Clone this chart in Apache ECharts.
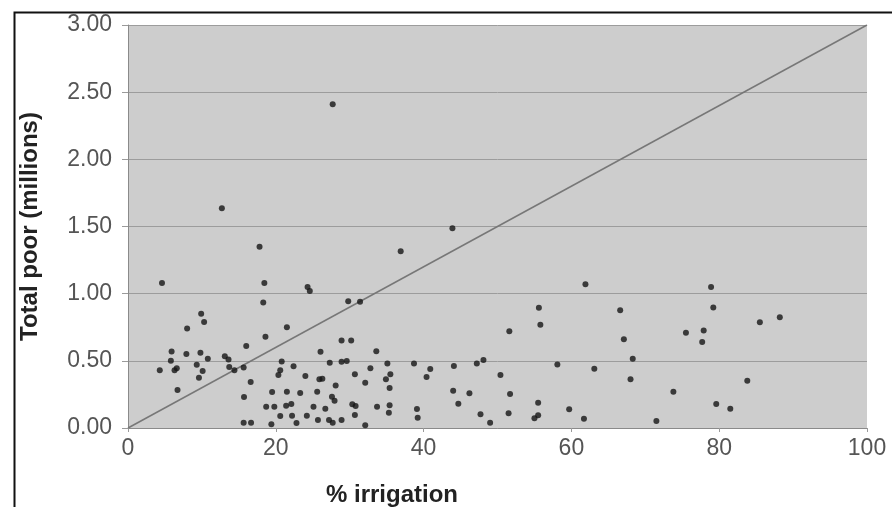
<!DOCTYPE html>
<html>
<head>
<meta charset="utf-8">
<script src="https://cdn.jsdelivr.net/npm/echarts@6/dist/echarts.min.js"></script>
<style>
html,body{margin:0;padding:0;background:#fff;}
#c{width:892px;height:507px;}
</style>
</head>
<body>
<div id="c"></div>
<script>
// % irrigation (x) and total poor in millions (y)
const irrigation = [4.6,18.45,24.3,24.6,18.3,9.9,10.3,8.0,21.5,18.6,16.0,5.9,7.9,9.8,10.8,13.1,13.6,5.8,9.3,20.8,
  4.3,6.3,6.6,10.1,13.7,14.4,15.65,22.4,20.6,20.35,9.6,24.0,25.9,26.3,6.7,16.6,19.5,21.5,23.3,25.6,
  15.7,18.7,19.8,21.4,22.1,25.1,20.6,22.2,24.2,25.7,15.65,16.65,19.4,22.8,29.8,31.4,28.9,30.2,26.05,33.6,
  27.3,28.9,29.6,35.1,38.7,44.1,47.2,48.1,32.8,40.9,30.7,35.5,34.9,40.4,50.4,32.1,28.1,35.4,44.0,46.2,
  27.6,27.95,44.7,26.7,30.35,30.8,33.7,35.4,35.3,39.1,30.7,39.2,47.7,27.2,27.7,28.9,32.1,49.0,61.9,55.6,
  55.8,66.6,51.6,67.1,68.3,58.1,63.1,68.0,51.7,73.8,55.5,51.5,55.0,55.5,59.7,61.7,71.5,78.9,79.2,85.5,
  88.2,75.5,77.9,77.7,83.8,79.6,81.5,27.7,12.7,17.8,43.9,36.9];
const totalPoor = [1.08,1.08,1.05,1.02,0.935,0.85,0.79,0.74,0.75,0.68,0.61,0.57,0.55,0.56,0.515,0.535,0.51,0.50,0.47,0.495,
  0.43,0.43,0.445,0.425,0.455,0.43,0.45,0.46,0.43,0.395,0.375,0.388,0.362,0.367,0.283,0.342,0.268,0.27,0.26,0.27,
  0.23,0.158,0.158,0.166,0.178,0.158,0.089,0.092,0.092,0.06,0.04,0.04,0.027,0.037,0.944,0.939,0.652,0.652,0.567,0.572,
  0.486,0.493,0.498,0.48,0.48,0.461,0.48,0.506,0.444,0.439,0.401,0.401,0.362,0.38,0.395,0.337,0.317,0.297,0.277,0.258,
  0.233,0.203,0.181,0.144,0.176,0.164,0.158,0.169,0.114,0.141,0.097,0.077,0.102,0.06,0.04,0.06,0.02,0.04,1.07,0.895,
  0.768,0.877,0.721,0.66,0.515,0.473,0.441,0.362,0.253,0.27,0.188,0.109,0.072,0.095,0.139,0.069,0.052,1.05,0.897,0.788,
  0.825,0.709,0.726,0.64,0.352,0.178,0.144,2.41,1.636,1.35,1.487,1.316];
// reference line y = 3 * x / 100
const refLineX = [0, 100];
const refLineY = [0, 3];
const xTicks = [0, 20, 40, 60, 80, 100];
const yTicks = [0, 0.5, 1, 1.5, 2, 2.5, 3];

const points = irrigation.map((x, i) => [x, totalPoor[i]]);
const refLine = refLineX.map((x, i) => [x, refLineY[i]]);

const FONT = '"Liberation Sans", Arial, sans-serif';
const chart = echarts.init(document.getElementById('c'), null, {renderer: 'canvas'});
chart.setOption({
  animation: false,
  backgroundColor: '#ffffff',
  grid: {left: 128, right: 25, top: 25, bottom: 79, show: true, backgroundColor: '#cdcdcd', borderWidth: 0},
  xAxis: {
    type: 'value', min: xTicks[0], max: xTicks[xTicks.length - 1], interval: 20,
    axisLine: {show: true, lineStyle: {color: '#8a8a8a', width: 1}},
    axisTick: {show: true, length: 4, lineStyle: {color: '#9a9a9a'}},
    splitLine: {show: false},
    axisLabel: {color: '#555', fontFamily: FONT, fontSize: 23, margin: 9}
  },
  yAxis: {
    type: 'value', min: yTicks[0], max: yTicks[yTicks.length - 1], interval: 0.5,
    name: 'Total poor (millions)', nameLocation: 'middle', nameGap: 86, nameRotate: 90,
    nameTextStyle: {color: '#222', fontFamily: FONT, fontSize: 24, fontWeight: 'bold'},
    axisLine: {show: true, lineStyle: {color: '#8a8a8a', width: 1}},
    axisTick: {show: true, length: 6, lineStyle: {color: '#9a9a9a'}},
    splitLine: {show: true, lineStyle: {color: '#9c9c9c', width: 1}},
    axisLabel: {color: '#555', fontFamily: FONT, fontSize: 23, margin: 16, formatter: v => v.toFixed(2)}
  },
  graphic: [
    {type: 'rect', left: 12, top: 10, silent: true, z: 100,
     shape: {x: 0, y: 0, width: 900, height: 600},
     style: {fill: null, stroke: '#111', lineWidth: 2}},
    {type: 'text', x: 392, y: 495, silent: true,
     style: {text: '% irrigation', fill: '#222', font: 'bold 24px ' + FONT, textAlign: 'center', textVerticalAlign: 'middle'}}
  ],
  series: [
    {type: 'line', data: refLine, showSymbol: false, symbol: 'none',
     lineStyle: {color: '#777777', width: 1.5}, z: 2},
    {type: 'scatter', data: points, symbol: 'circle', symbolSize: 6,
     itemStyle: {color: '#151515'}, z: 3}
  ]
});
</script>
</body>
</html>
